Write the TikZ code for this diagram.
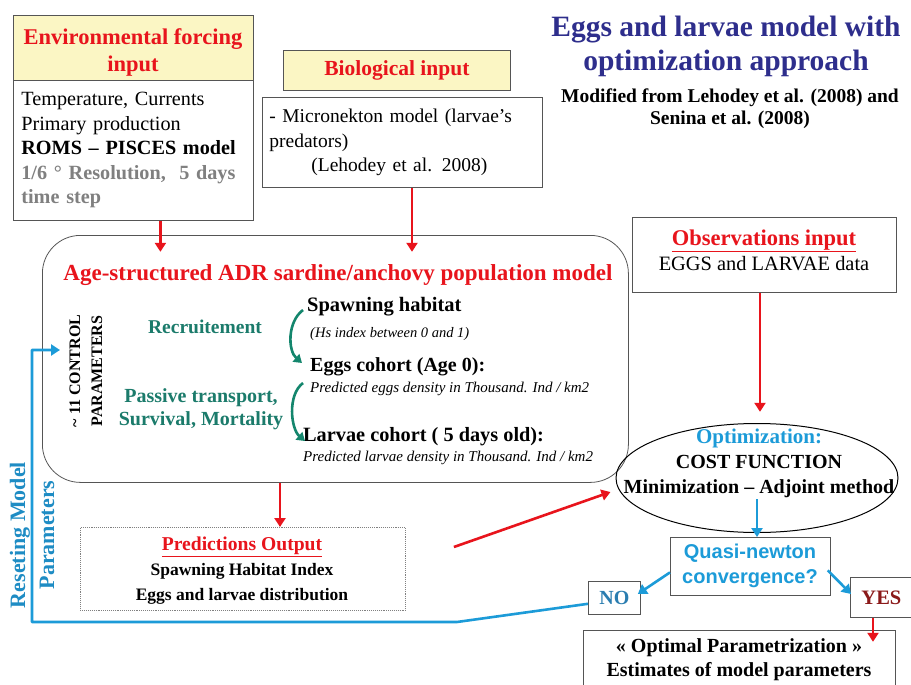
\documentclass[tikz,border=0pt]{standalone}
\usepackage{fontspec}
\setmainfont{Liberation Serif}
\newfontfamily\sansf{Liberation Sans}
\usetikzlibrary{shapes.geometric,arrows.meta,calc}
\definecolor{yfill}{HTML}{FBF6C4}
\definecolor{myred}{HTML}{E8141C}
\definecolor{titleblue}{HTML}{2E2E8C}
\definecolor{teal}{HTML}{1B7B6B}
\definecolor{greenarr}{HTML}{14866D}
\definecolor{lblue}{HTML}{1C9BD8}
\definecolor{rblue}{HTML}{1E8CC4}
\definecolor{nocol}{HTML}{2A7DB0}
\definecolor{yescol}{HTML}{8B1A1A}
\definecolor{boxgray}{HTML}{555555}
\newcommand\fsz[2]{\fontsize{#1}{#2}\selectfont}
\tikzset{
  ybox/.style={draw=boxgray, line width=0.8pt, fill=yfill, inner sep=0pt, align=center},
  wbox/.style={draw=boxgray, line width=0.8pt, fill=white, inner sep=0pt},
  txt/.style={inner sep=0pt, align=left},
  redarr/.style={draw=myred, line width=2.6pt, -{Triangle[length=9pt,width=11pt]}},
  bluearr/.style={draw=lblue, line width=2.6pt, -{Triangle[length=9pt,width=11pt]}},
  grarr/.style={draw=greenarr, line width=2.6pt, -{Triangle[length=8pt,width=10pt]}},
}
\begin{document}
\begin{tikzpicture}[x=1pt,y=-1pt]
\useasboundingbox[fill=white] (0,0) rectangle (911,685);

% Environmental forcing
\node[ybox, minimum width=240pt, minimum height=65pt, anchor=north west] (envhead) at (13,15) {};
\node[txt, align=center, font=\fsz{22.5}{27}\bfseries, text=myred] (envheadt) at (133,52)
  {Environmental forcing\\input};
\node[wbox, minimum width=240pt, minimum height=140pt, anchor=north west,
      text width=224pt, align=left, font=\fsz{20.2}{24.5}] (envtxt) at (13,80)
  {Temperature, Currents\\Primary production\\
   \textbf{ROMS -- PISCES model}\\
   {\color{gray}\bfseries 1/6 ° Resolution,\ \ 5 days}\\
   {\color{gray}\bfseries time step}};

% Biological input
\node[ybox, minimum width=227pt, minimum height=40pt, anchor=north west,
      font=\fsz{21.5}{24}\bfseries, text=myred] (biohead) at (283,50)
  {Biological input};
\node[wbox, minimum width=280pt, minimum height=90pt, anchor=north west,
      text width=266pt, align=left, font=\fsz{19.5}{24.5}] (biotxt) at (262,97)
  {- Micronekton model\ (larvae's\\predators)\\
   \hspace*{42pt}(Lehodey et al. 2008)};

% Title
\node[txt, align=center, text=titleblue, font=\fsz{29.5}{34}\bfseries] (title) at (726,46)
  {Eggs and larvae model with\\optimization approach};
\node[txt, align=center, font=\fsz{19.5}{22}\bfseries] (subtitle) at (730,109)
  {Modified from Lehodey et al. (2008) and\\Senina et al. (2008)};

% Population model
\node[draw=boxgray, line width=0.8pt, rounded corners=38pt, minimum width=586pt,
      minimum height=247pt, anchor=north west, inner sep=0pt] (model) at (42,235) {};
\node[txt, text=myred, font=\fsz{23}{26}\bfseries] (modtitle) at (338,275)
  {Age-structured ADR sardine/anchovy population model};
\node[txt, rotate=90, align=center, font=\fsz{16}{22}\bfseries] (ctrl) at (86,371)
  {\textasciitilde\ 11 CONTROL\\PARAMETERS};
\node[txt, text=teal, font=\fsz{19.5}{22}\bfseries] (recr) at (205,327) {Recruitement};
\node[txt, text=teal, align=center, font=\fsz{20}{23}\bfseries] (passive) at (201,409)
  {Passive transport,\\Survival, Mortality};
\node[txt, anchor=west, font=\fsz{20.5}{22}\bfseries] (sp) at (307,307) {Spawning habitat};
\node[txt, anchor=west, font=\fsz{14.5}{16}\itshape] (spn) at (310,334) {(Hs index between 0 and 1)};
\node[txt, anchor=west, font=\fsz{20}{22}\bfseries] (eg) at (310,367) {Eggs cohort (Age 0):};
\node[txt, anchor=west, font=\fsz{15}{16}\itshape] (egn) at (310,389) {Predicted eggs density in Thousand. Ind / km2};
\node[txt, anchor=west, font=\fsz{20.3}{22}\bfseries] (lv) at (303,437) {Larvae cohort ( 5 days old):};
\node[txt, anchor=west, font=\fsz{15}{16}\itshape] (lvn) at (303,458) {Predicted larvae density in Thousand. Ind / km2};

\draw[grarr] ([shift={(-4,3)}]sp.west) .. controls +(-16,12) and +(-14,-12) .. ([shift={(-8,-4)}]eg.west);
\draw[grarr] ([shift={(-7,16)}]eg.west) .. controls +(-16,12) and +(-14,-12) .. ([shift={(2,4)}]lv.west);

% Observations
\node[wbox, minimum width=264pt, minimum height=75pt, anchor=north west] (obs) at (632,217) {};
\node[txt, align=center, font=\fsz{20.4}{25}] (obst) at (764,250)
  {{\fontsize{22.5}{25}\selectfont\bfseries\color{myred}\underline{Observations input}}\\EGGS and LARVAE data};

% Optimization ellipse
\node[draw=black, line width=1pt, ellipse, minimum width=282pt, minimum height=109pt,
      inner sep=0pt] (opt) at (757,478) {};
\node[txt, align=center, font=\fsz{20}{25}\bfseries] (optt) at (759,463)
  {{\fontsize{21}{25}\selectfont\color{lblue}Optimization:}\\COST FUNCTION\\Minimization -- Adjoint method};

% Quasi-newton
\node[wbox, minimum width=160pt, minimum height=58pt, anchor=north west] (qn) at (670,537) {};
\node[txt, align=center, font=\sansf\fsz{20}{25}\bfseries, text=lblue] (qnt) at (750,566)
  {Quasi-newton\\convergence?};
\node[wbox, minimum width=52pt, minimum height=33pt, anchor=north west,
      font=\fsz{20}{22}\bfseries, text=nocol] (no) at (588,581) {NO};
\node[wbox, minimum width=62pt, minimum height=40pt, anchor=north west,
      font=\fsz{20.5}{22}\bfseries, text=yescol] (yes) at (850,577) {YES};
\node[wbox, minimum width=312pt, minimum height=58pt, anchor=north west] (optp) at (583,630) {};
\node[txt, align=center, font=\fsz{20}{24}\bfseries] (optpt) at (739,660)
  {« Optimal Parametrization »\\Estimates of model parameters};

% Predictions
\node[draw=gray, densely dotted, line width=0.9pt, minimum width=325pt, minimum height=83pt,
      anchor=north west, inner sep=0pt] (pred) at (80,527) {};
\node[txt, align=center, font=\fsz{17.5}{25}\bfseries] (predt) at (242,571)
  {{\fontsize{19.6}{25}\selectfont\color{myred}\underline{Predictions Output}}\\Spawning Habitat Index\\Eggs and larvae distribution};

% Resetting labels
\node[txt, rotate=90, text=rblue, font=\fsz{22}{24}\bfseries] (reset) at (20,535) {Reseting Model};
\node[txt, rotate=90, text=rblue, font=\fsz{22}{24}\bfseries] (rparam) at (47,535) {Parameters};

% Red arrows
\draw[redarr] ([xshift=27pt]envtxt.south) -- ++(0,31);
\draw[redarr] (biotxt.south -| 412,0) -- ++(0,64);
\draw[redarr] (model.south -| 280,0) -- (pred.north -| 280,0);
\draw[redarr] (obs.south -| 760,0) -- ++(0,119);
\draw[redarr] ([shift={(48,20)}]pred.north east) -- ([shift={(-5,14)}]opt.west);
\draw[redarr] (yes.south -| 873,0) -- ++(0,24);

% Blue arrows
\draw[bluearr] ([yshift=34pt]opt.south) -- (qn.north -| opt.south);
\draw[bluearr] ([yshift=-6pt]qn.west) -- ([shift={(-3,13)}]no.north east);
\draw[bluearr] ([shift={(-3,4)}]qn.east) -- ([shift={(1,17)}]yes.north west);
\coordinate (c1) at (457,622);
\coordinate (c2) at (32,622);
\coordinate (c3) at (32,350);
\draw[draw=lblue, line width=2.6pt, line join=round, -{Triangle[length=9pt,width=11pt]}]
  ([yshift=11pt]no.south west) -- (c1) -- (c2) -- (c3) -- (60,350);
\end{tikzpicture}
\end{document}
